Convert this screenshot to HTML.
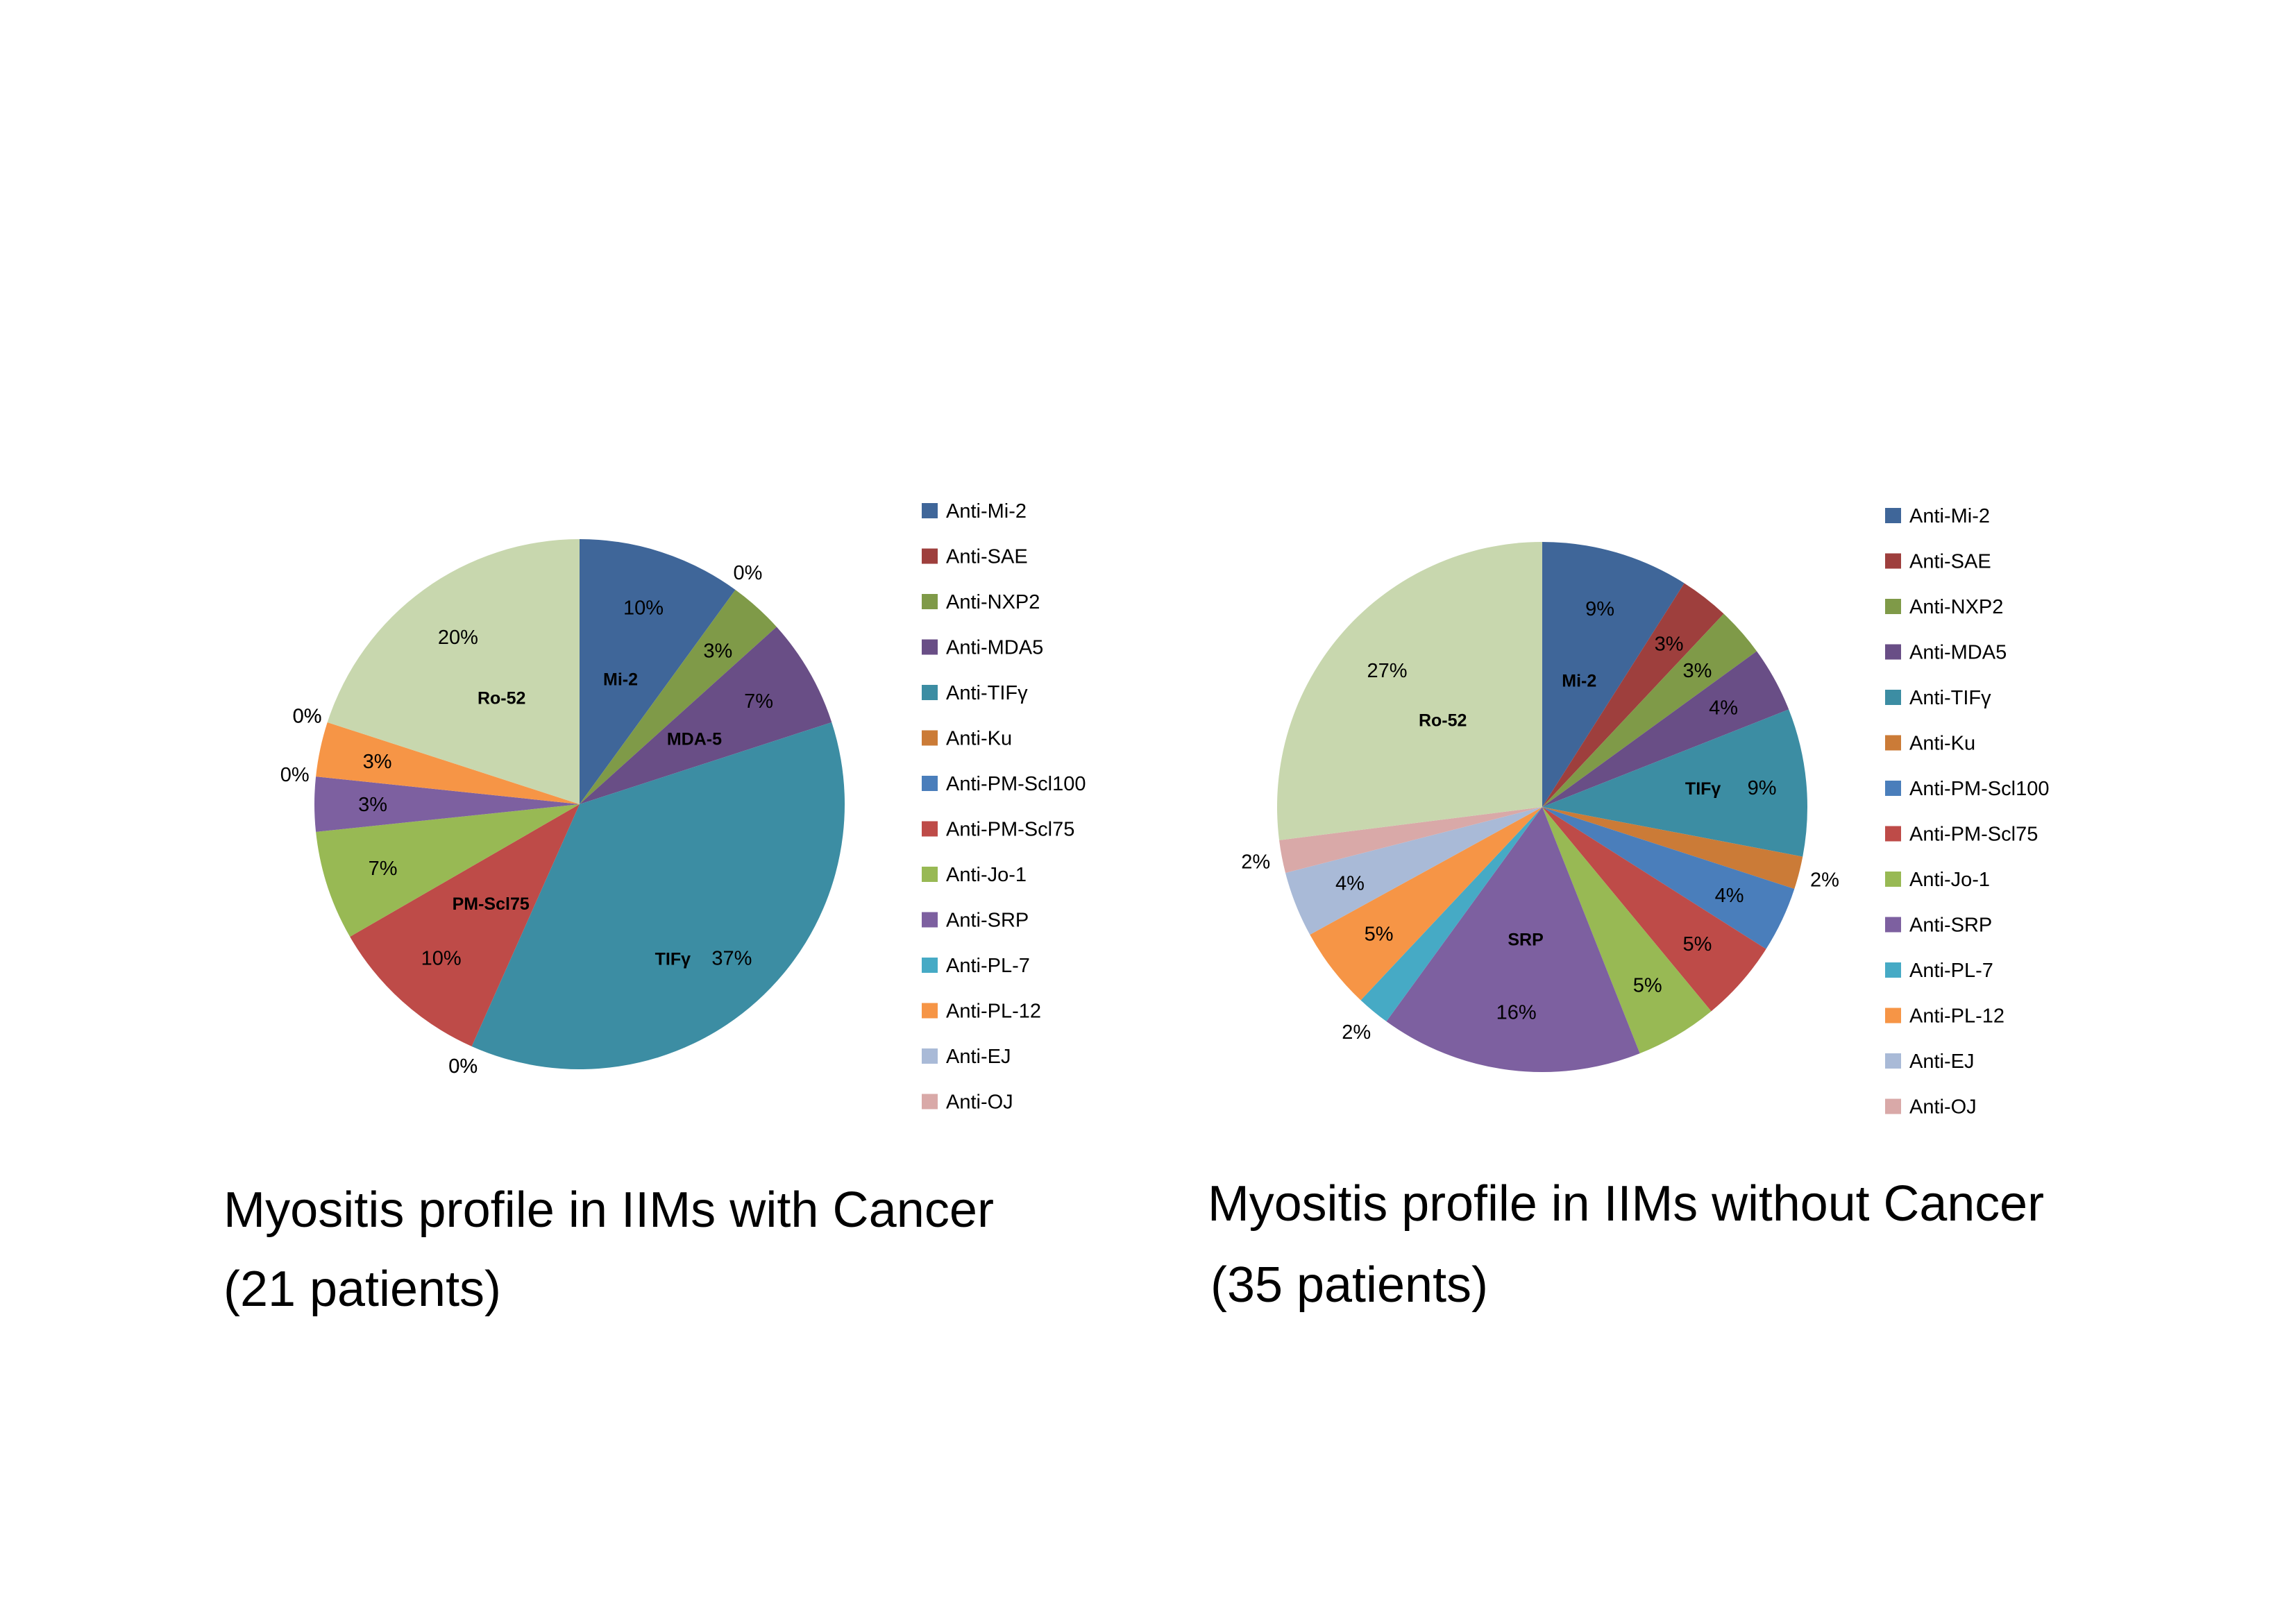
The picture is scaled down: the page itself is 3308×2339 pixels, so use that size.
<!DOCTYPE html>
<html><head><meta charset="utf-8"><style>
html,body{margin:0;padding:0;background:#fff;}
svg{display:block;font-family:"Liberation Sans",sans-serif;}
</style></head><body>
<svg id="root" width="3308" height="2339" viewBox="0 0 3308 2339" xmlns="http://www.w3.org/2000/svg">
<rect width="3308" height="2339" fill="#fff"/>
<g id="chartL"></g>
<g id="chartR"></g>
<text x="322" y="1768" font-size="72" textLength="1110" lengthAdjust="spacingAndGlyphs">Myositis profile in IIMs with Cancer</text>
<text x="322" y="1882" font-size="72" textLength="400" lengthAdjust="spacingAndGlyphs">(21 patients)</text>
<text x="1740" y="1759" font-size="72" textLength="1205" lengthAdjust="spacingAndGlyphs">Myositis profile in IIMs without Cancer</text>
<text x="1744" y="1876" font-size="72" textLength="400" lengthAdjust="spacingAndGlyphs">(35 patients)</text>
</svg>
<script>
const categories = ["Anti-Mi-2","Anti-SAE","Anti-NXP2","Anti-MDA5","Anti-TIFγ","Anti-Ku","Anti-PM-Scl100","Anti-PM-Scl75","Anti-Jo-1","Anti-SRP","Anti-PL-7","Anti-PL-12","Anti-EJ","Anti-OJ","Ro-52"];
const colors = ["#3F6699","#9E3F3D","#7F9A48","#694E86","#3C8DA3","#CB7B37","#4A7EBB","#BE4B48","#98B954","#7D60A0","#46AAC5","#F69546","#A9BAD7","#D9A9A8","#C8D7AE"];
const valuesWithCancer = [3,0,1,2,11,0,0,3,2,1,0,1,0,0,6];
const valuesWithoutCancer = [9,3,3,4,9,2,4,5,5,16,2,5,4,2,27];
const boldLeft = ["Mi-2","","","MDA-5","TIFγ","","","PM-Scl75","","","","","","","Ro-52"];
const boldRight = ["Mi-2","","","","TIFγ","","","","","SRP","","","","","Ro-52"];
const NS = "http://www.w3.org/2000/svg";
function mk(tag, attrs, parent){const e=document.createElementNS(NS,tag);for(const k in attrs)e.setAttribute(k,attrs[k]);parent.appendChild(e);return e;}
function drawPie(g, values, cx, cy, r, bold, legX, legY){
  const total = values.reduce((a,b)=>a+b,0);
  let a0 = -Math.PI/2;
  values.forEach((v,i)=>{
    const frac=v/total, a1=a0+frac*2*Math.PI;
    if(v>0){
      const large = frac>0.5?1:0;
      const x0=cx+r*Math.cos(a0), y0=cy+r*Math.sin(a0), x1=cx+r*Math.cos(a1), y1=cy+r*Math.sin(a1);
      const p = mk("path",{d:`M${cx},${cy}L${x0},${y0}A${r},${r} 0 ${large} 1 ${x1},${y1}Z`,fill:colors[i]},g);
      
      
    }
    const am=(a0+a1)/2;
    const pct=Math.round(frac*100)+"%";
    const lr = v>0 ? (frac<0.03? r*1.1 : r*0.78) : r*1.08;
    const px=cx+lr*Math.cos(am), py=cy+lr*Math.sin(am)+10;
    const t = mk("text",{x:px+(i===4?20:0), y:py,"font-size":29,"text-anchor":"middle",fill:"#000"},g);
    t.textContent=pct;
    
    
    if(bold[i]){
      let bx, by;
      if(i===4){ bx=px-65; by=py; }
      else { const br=r*0.5; bx=cx+br*Math.cos(am); by=cy+br*Math.sin(am)+10; }
      const b = mk("text",{x:bx, y:by,"font-size":25,"font-weight":"bold","text-anchor":"middle",fill:"#000"},g);
      b.textContent=bold[i];
      
      
    }
    a0=a1;
  });
  for(let i=0;i<14;i++){
    const y=legY+i*65.5;
    const s=mk("rect",{x:legX,y:y-11,width:23,height:22,fill:colors[i]},g);
    
    
    const t=mk("text",{x:legX+35,y:y+10,"font-size":29,fill:"#000"},g);
    t.textContent=categories[i];
    
    
  }
}
drawPie(document.getElementById("chartL"), valuesWithCancer, 835, 1159, 382, boldLeft, 1328, 736);
drawPie(document.getElementById("chartR"), valuesWithoutCancer, 2222, 1163, 382, boldRight, 2716, 743);
</script>
</body></html>
